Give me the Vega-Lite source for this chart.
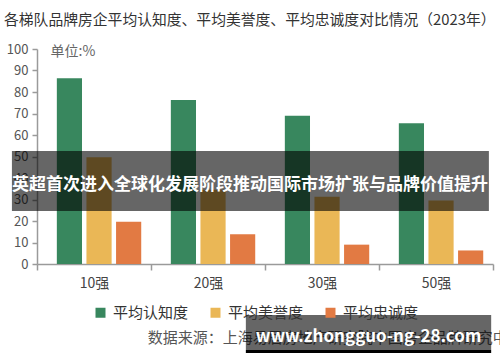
{
  "$schema": "https://vega.github.io/schema/vega-lite/v6.json",
  "width": 456,
  "height": 215,
  "autosize": {"type": "none"},
  "padding": {"left": 37, "top": 49, "right": 7, "bottom": 98},
  "title": {
    "text": "各梯队品牌房企平均认知度、平均美誉度、平均忠诚度对比情况（2023年）",
    "anchor": "start",
    "frame": "group",
    "dx": -33,
    "offset": 15,
    "fontSize": 14.8,
    "fontWeight": "normal",
    "color": "#333333"
  },
  "datasets": {
    "bars": [
      {"tier": "10强", "metric": "平均认知度", "value": 86.4},
      {"tier": "10强", "metric": "平均美誉度", "value": 49.7},
      {"tier": "10强", "metric": "平均忠诚度", "value": 19.6},
      {"tier": "20强", "metric": "平均认知度", "value": 76.3},
      {"tier": "20强", "metric": "平均美誉度", "value": 34.5},
      {"tier": "20强", "metric": "平均忠诚度", "value": 13.8},
      {"tier": "30强", "metric": "平均认知度", "value": 68.9},
      {"tier": "30强", "metric": "平均美誉度", "value": 31.3},
      {"tier": "30强", "metric": "平均忠诚度", "value": 9.0},
      {"tier": "50强", "metric": "平均认知度", "value": 65.5},
      {"tier": "50强", "metric": "平均美誉度", "value": 29.5},
      {"tier": "50强", "metric": "平均忠诚度", "value": 6.3}
    ]
  },
  "layer": [
    {
      "data": {"name": "bars"},
      "mark": {"type": "bar"},
      "encoding": {
        "x": {
          "field": "tier",
          "type": "nominal",
          "sort": ["10强", "20强", "30强", "50强"],
          "scale": {"paddingInner": 0, "paddingOuter": 0},
          "axis": {
            "title": null,
            "tickBand": "extent",
            "tickSize": 6,
            "labelAngle": 0,
            "labelFontSize": 14,
            "labelColor": "#444444",
            "labelPadding": 6
          }
        },
        "xOffset": {
          "field": "metric",
          "type": "nominal",
          "sort": ["平均认知度", "平均美誉度", "平均忠诚度"],
          "scale": {"paddingInner": 0.15, "paddingOuter": 0.5, "align": 0.67}
        },
        "y": {
          "field": "value",
          "type": "quantitative",
          "scale": {"domain": [0, 100], "nice": false},
          "axis": {
            "values": [0, 10, 20, 30, 40, 50, 60, 70, 80, 90, 100],
            "labelOverlap": false,
            "tickSize": 5,
            "labelPadding": 4,
            "labelFontSize": 13,
            "labelColor": "#555555",
            "title": "单位:%",
            "titleAngle": 0,
            "titleAlign": "left",
            "titleBaseline": "middle",
            "titleX": 13,
            "titleY": 2,
            "titleFontSize": 14,
            "titleFontWeight": "normal",
            "titleColor": "#666666"
          }
        },
        "color": {
          "field": "metric",
          "type": "nominal",
          "sort": ["平均认知度", "平均美誉度", "平均忠诚度"],
          "scale": {
            "domain": ["平均认知度", "平均美誉度", "平均忠诚度"],
            "range": ["#38875E", "#EAB756", "#E27A43"]
          },
          "legend": {
            "title": null,
            "orient": "none",
            "legendX": 56,
            "legendY": 256,
            "direction": "horizontal",
            "symbolType": "square",
            "symbolSize": 100,
            "symbolStrokeWidth": 0,
            "labelFontSize": 15,
            "labelColor": "#333333",
            "labelOffset": 5,
            "columnPadding": 19
          }
        }
      }
    },
    {
      "data": {"values": [{"part": "banner"}]},
      "mark": {"type": "rect", "color": "#000000", "opacity": 0.6},
      "encoding": {
        "x": {"datum": -5.5, "type": "quantitative", "scale": {"domain": [0, 100], "nice": false, "zero": false}, "axis": null},
        "x2": {"datum": 99.1},
        "y": {"datum": 52.6, "type": "quantitative", "axis": {"values": [0, 10, 20, 30, 40, 50, 60, 70, 80, 90, 100], "labelOverlap": false}},
        "y2": {"datum": 24.7}
      }
    },
    {
      "data": {"values": [{"label": "英超首次进入全球化发展阶段推动国际市场扩张与品牌价值提升"}]},
      "mark": {"type": "text", "color": "#ffffff", "fontSize": 17, "fontWeight": "bold", "align": "center", "baseline": "middle"},
      "encoding": {
        "x": {"datum": 46.7, "type": "quantitative", "scale": {"domain": [0, 100], "nice": false, "zero": false}, "axis": null},
        "y": {"datum": 36.7, "type": "quantitative", "axis": {"values": [0, 10, 20, 30, 40, 50, 60, 70, 80, 90, 100], "labelOverlap": false}},
        "text": {"field": "label"}
      }
    },
    {
      "data": {"values": [{"label": "数据来源：上海易居房地产研究院中国房企品牌研究中心"}]},
      "mark": {"type": "text", "color": "#555555", "fontSize": 15, "align": "left", "baseline": "middle"},
      "encoding": {
        "x": {"datum": 24.3, "type": "quantitative", "scale": {"domain": [0, 100], "nice": false, "zero": false}, "axis": null},
        "y": {"datum": -34.4, "type": "quantitative", "axis": {"values": [0, 10, 20, 30, 40, 50, 60, 70, 80, 90, 100], "labelOverlap": false}},
        "text": {"field": "label"}
      }
    },
    {
      "data": {"values": [{"part": "watermark"}]},
      "mark": {"type": "rect", "color": "#000000", "opacity": 0.6},
      "encoding": {
        "x": {"datum": 45.8, "type": "quantitative", "scale": {"domain": [0, 100], "nice": false, "zero": false}, "axis": null},
        "x2": {"datum": 99.6},
        "y": {"datum": -23.7, "type": "quantitative", "axis": {"values": [0, 10, 20, 30, 40, 50, 60, 70, 80, 90, 100], "labelOverlap": false}},
        "y2": {"datum": -40.0}
      }
    },
    {
      "data": {"values": [{"part": "watermark edge"}]},
      "mark": {"type": "rect", "color": "#000000", "opacity": 1},
      "encoding": {
        "x": {"datum": 45.8, "type": "quantitative", "scale": {"domain": [0, 100], "nice": false, "zero": false}, "axis": null},
        "x2": {"datum": 99.6},
        "y": {"datum": -40.0, "type": "quantitative", "axis": {"values": [0, 10, 20, 30, 40, 50, 60, 70, 80, 90, 100], "labelOverlap": false}},
        "y2": {"datum": -41.4}
      }
    },
    {
      "data": {"values": [{"label": "www.zhongguo-ng-28.com"}]},
      "mark": {"type": "text", "color": "#ffffff", "fontSize": 17, "fontWeight": "bold", "align": "center", "baseline": "middle"},
      "encoding": {
        "x": {"datum": 72.7, "type": "quantitative", "scale": {"domain": [0, 100], "nice": false, "zero": false}, "axis": null},
        "y": {"datum": -34.0, "type": "quantitative", "axis": {"values": [0, 10, 20, 30, 40, 50, 60, 70, 80, 90, 100], "labelOverlap": false}},
        "text": {"field": "label"}
      }
    }
  ],
  "resolve": {"scale": {"x": "independent"}},
  "config": {
    "font": "Noto Sans CJK SC",
    "view": {"stroke": null},
    "axis": {
      "grid": false,
      "domainColor": "#9a9a9a",
      "tickColor": "#9a9a9a",
      "domainWidth": 1.5,
      "tickWidth": 1.5
    }
  }
}
